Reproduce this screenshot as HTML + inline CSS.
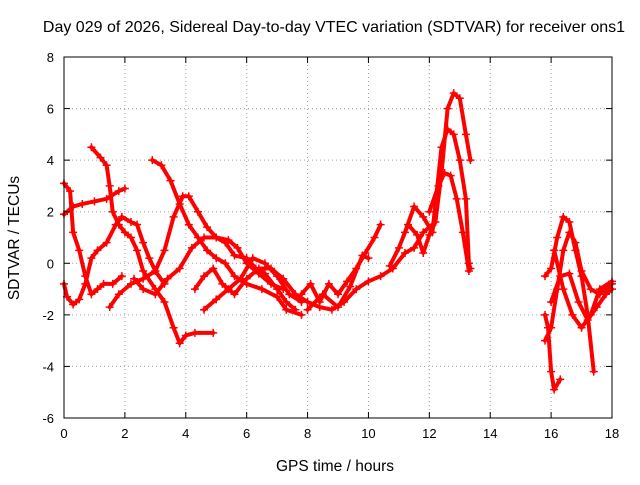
<!DOCTYPE html>
<html><head><meta charset="utf-8"><style>
body{margin:0;background:#fff;}
svg text{font-family:"Liberation Sans",sans-serif;fill:#000;}
</style></head><body>
<svg id="chart" width="640" height="480" xmlns="http://www.w3.org/2000/svg">
<rect width="640" height="480" fill="#fff"/>
<text x="334" y="32" font-size="16" text-anchor="middle">Day 029 of 2026, Sidereal Day-to-day VTEC variation (SDTVAR) for receiver ons1</text>
<text x="335" y="471" font-size="15.5" text-anchor="middle">GPS time / hours</text>
<text x="0" y="0" font-size="15.5" text-anchor="middle" transform="translate(19,238) rotate(-90)">SDTVAR / TECUs</text>
<g id="grid"></g><g id="marks"></g><g id="axes"></g>
</svg>
<script>
const xTicks=[0,2,4,6,8,10,12,14,16,18];
const yTicks=[-6,-4,-2,0,2,4,6,8];
const tracks=[
[[0,1.9],[0.3,2.2],[0.6,2.3],[1,2.4],[1.4,2.5],[1.8,2.8],[2.0,2.9]],
[[0,3.1],[0.2,2.8],[0.3,1.2],[0.5,0.5],[0.7,-0.5],[0.9,-1.2],[1.1,-1.0],[1.3,-0.8],[1.6,-0.8],[1.9,-0.5]],
[[0,-0.8],[0.1,-1.3],[0.3,-1.6],[0.5,-1.4],[0.7,-0.8],[0.9,0.2],[1.1,0.5],[1.4,0.8],[1.7,1.5],[1.9,1.8],[2.2,1.6],[2.4,1.5],[2.6,0.8],[2.8,0.2],[3.0,-0.3],[3.3,-0.8]],
[[0.9,4.5],[1.2,4.1],[1.4,3.8],[1.5,3.0],[1.6,2.0],[1.8,1.5],[2.0,1.2],[2.2,1.0],[2.4,0.5],[2.6,-0.3],[3.0,-1.0],[3.3,-1.5],[3.6,-2.5],[3.8,-3.1],[4.0,-2.8],[4.3,-2.7],[4.9,-2.7]],
[[2.9,4.0],[3.2,3.8],[3.5,3.2],[3.8,2.3],[4.1,1.5],[4.4,1.0],[4.7,0.5],[5.0,0.2],[5.3,0],[5.6,-0.5],[6.0,-0.8],[6.5,-1.0],[7.0,-1.3],[7.3,-1.8],[7.8,-2.0]],
[[1.5,-1.7],[1.8,-1.2],[2.2,-0.8],[2.6,-0.6],[3.0,-0.3],[3.3,0.5],[3.6,1.8],[3.9,2.6],[4.1,2.6],[4.4,2.0],[4.7,1.4],[5.0,1.0],[5.3,0.8],[5.6,0.3],[6.0,0.2],[6.3,-0.2],[6.6,-0.4],[7.0,-1.0],[7.3,-1.5],[7.6,-1.8]],
[[2.3,-0.6],[2.6,-1.0],[3.0,-1.2],[3.4,-0.6],[3.8,-0.2],[4.2,0.6],[4.6,1.0],[5.0,1.0],[5.4,0.9],[5.7,0.6],[6.0,0.0],[6.4,-0.4],[6.8,-0.8],[7.2,-1.0]],
[[4.6,-1.8],[5.0,-1.4],[5.4,-1.0],[5.8,-0.6],[6.2,0.2],[6.6,0.0],[7.0,-0.5],[7.4,-1.2],[7.8,-1.5]],
[[4.3,-1.0],[4.6,-0.5],[4.9,-0.2],[5.2,-0.8],[5.6,-1.2],[6.0,-0.6],[6.4,-0.2],[6.8,-0.2],[7.2,-0.6],[7.6,-1.2],[8.0,-1.5],[8.4,-1.7],[8.8,-1.8],[9.2,-1.5],[9.6,-1.0],[10,-0.7],[10.4,-0.5],[10.8,-0.2],[11.2,0.4],[11.5,0.6],[11.8,1.2],[12.1,1.5]],
[[7.8,-1.2],[8.1,-0.8],[8.4,-1.5],[8.7,-0.8],[9.0,-1.2],[9.3,-0.7],[9.6,-0.2],[9.9,0.4],[10.2,1.0],[10.4,1.5]],
[[8.0,-1.8],[8.5,-1.2],[9.0,-1.7],[9.4,-0.9],[9.8,0.3],[10.0,0.2]],
[[10.7,-0.1],[11.0,0.6],[11.3,1.5],[11.6,1.1],[11.8,0.4],[12.0,1.1],[12.2,1.6],[12.4,3.5],[12.6,6.0],[12.8,6.6],[13.0,6.4],[13.2,5.0],[13.35,4.0]],
[[11.2,1.2],[11.5,2.2],[11.8,1.8],[12.1,1.2],[12.4,4.5],[12.6,5.2],[12.8,5.0],[13.0,4.0],[13.2,2.5],[13.3,0.0],[13.35,-0.2]],
[[12.0,2.0],[12.3,3.0],[12.5,3.5],[12.7,3.4],[12.9,2.5],[13.1,1.2],[13.3,-0.3]],
[[15.8,-2.0],[15.9,-2.5],[16.0,-4.2],[16.1,-4.9],[16.3,-4.5]],
[[15.8,-0.5],[16.0,-0.2],[16.2,1.0],[16.4,1.8],[16.6,1.6],[16.8,0.5],[17.0,-0.5],[17.2,-2.0],[17.4,-4.2]],
[[15.8,-3.0],[16.0,-2.5],[16.2,-1.0],[16.4,0.5],[16.6,1.2],[16.8,0.8],[17.0,-0.3],[17.3,-1.0],[17.6,-1.2],[18.0,-0.8]],
[[16.0,-1.5],[16.3,-0.5],[16.6,-0.4],[16.9,-1.5],[17.2,-2.2],[17.5,-1.7],[17.8,-1.2],[18.0,-1.0]],
[[16.1,0.5],[16.4,-1.0],[16.7,-2.0],[17.0,-2.5],[17.3,-2.0],[17.6,-1.0],[18.0,-0.7]]
];
const X0=64,X1=612,Y0=418,Y1=57;
function sx(t){return X0+(t-0)/(18-0)*(X1-X0);}
function sy(v){return Y0-(v+6)/(14)*(Y0-Y1);}
const NS="http://www.w3.org/2000/svg";
const grid=document.getElementById('grid'),marks=document.getElementById('marks'),axes=document.getElementById('axes');
function mk(tag,attrs,parent){const e=document.createElementNS(NS,tag);for(const k in attrs)e.setAttribute(k,attrs[k]);parent.appendChild(e);return e;}
xTicks.forEach(t=>{
  const x=sx(t);
  if(t>0&&t<18){const g=mk('line',{x1:x,x2:x,y1:Y1,y2:Y0,stroke:'#a0a0a0','stroke-dasharray':'1,3'},grid);
  
  }
  mk('line',{x1:x,x2:x,y1:Y0,y2:Y0-6,stroke:'#000'},axes);
  mk('line',{x1:x,x2:x,y1:Y1,y2:Y1+6,stroke:'#000'},axes);
  const l=mk('text',{x:x,y:Y0+20,'font-size':13,'text-anchor':'middle'},axes);l.textContent=t;
  
  
});
yTicks.forEach(v=>{
  const y=sy(v);
  if(v>-6&&v<8){const g=mk('line',{x1:X0,x2:X1,y1:y,y2:y,stroke:'#a0a0a0','stroke-dasharray':'1,3'},grid);
  
  }
  mk('line',{x1:X0,x2:X0+6,y1:y,y2:y,stroke:'#000'},axes);
  mk('line',{x1:X1,x2:X1-6,y1:y,y2:y,stroke:'#000'},axes);
  const l=mk('text',{x:X0-10,y:y+5,'font-size':13,'text-anchor':'end'},axes);l.textContent=v;
  
  
});
const frame=mk('rect',{x:X0,y:Y1,width:X1-X0,height:Y0-Y1,fill:'none',stroke:'#000'},axes);


tracks.forEach((tr,i)=>{
  const pts=tr.map(p=>sx(p[0])+','+sy(p[1])).join(' ');
  const pl=mk('polyline',{points:pts,fill:'none',stroke:'#ff0000','stroke-width':4,'stroke-linejoin':'round','stroke-linecap':'round'},marks);
  
  
  tr.forEach(p=>{
    const x=sx(p[0]),y=sy(p[1]);
    const m=mk('path',{d:`M${x-4},${y}H${x+4}M${x},${y-4}V${y+4}`,stroke:'#ff0000','stroke-width':1.5},marks);
    
    
  });
});
</script>
</body></html>
